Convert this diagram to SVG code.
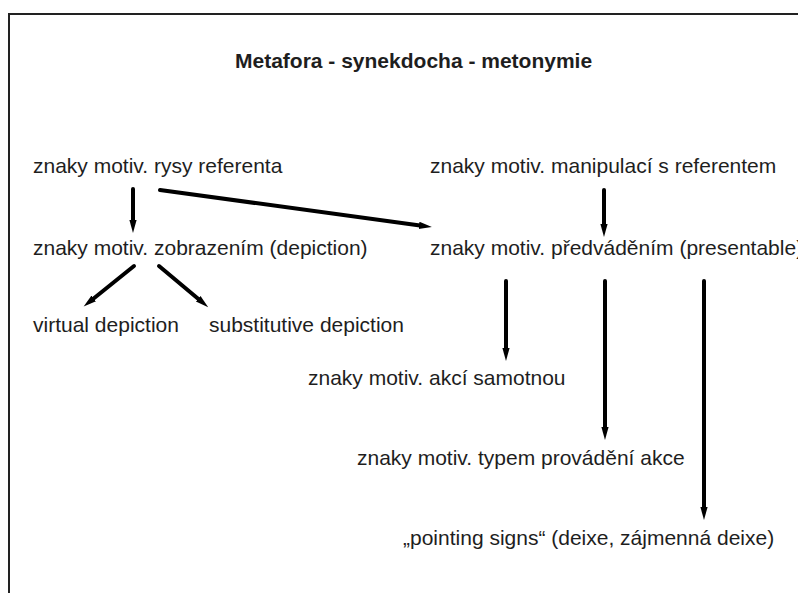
<svg xmlns="http://www.w3.org/2000/svg" width="798" height="593" viewBox="0 0 798 593">
<style>
text{font-family:"Liberation Sans",Arial,sans-serif;font-size:21px;fill:#1e1e1e}
.title{font-weight:bold}
.conn line{stroke:#000;stroke-width:4;stroke-linecap:round;marker-end:url(#ah)}
</style>
<defs>
<marker id="ah" markerUnits="userSpaceOnUse" markerWidth="16" markerHeight="10" viewBox="0 -5 16 10" refX="1" refY="0" orient="auto">
<path d="M0,-3.6 L13,0 L0,3.6 Z" fill="#000"/>
</marker>
</defs>
<rect width="798" height="593" fill="#fff"/>
<path d="M9,593 V14 H798" fill="none" stroke="#222" stroke-width="2"/>
<g id="title"><text class="title" x="235" y="68">Metafora - synekdocha - metonymie</text></g>
<g id="n-rysy"><text x="33" y="173">znaky motiv. rysy referenta</text></g>
<g id="n-manip"><text x="430" y="173">znaky motiv. manipulací s referentem</text></g>
<g id="n-zobr"><text x="33" y="255">znaky motiv. zobrazením (depiction)</text></g>
<g id="n-predv"><text x="430" y="255">znaky motiv. předváděním (presentable)</text></g>
<g id="n-virtual"><text x="33" y="332">virtual depiction</text></g>
<g id="n-subst"><text x="209" y="332">substitutive depiction</text></g>
<g id="n-akci"><text x="308" y="385">znaky motiv. akcí samotnou</text></g>
<g id="n-typem"><text x="357" y="465">znaky motiv. typem provádění akce</text></g>
<g id="n-pointing"><text x="403" y="545">„pointing signs“ (deixe, zájmenná deixe)</text></g>
<g class="conn" id="connectors">
<line x1="133" y1="189" x2="133" y2="221"/>
<line x1="160" y1="190" x2="420" y2="225.5"/>
<line x1="134" y1="266" x2="93" y2="299"/>
<line x1="159" y1="266" x2="199" y2="299.5"/>
<line x1="604" y1="190" x2="604" y2="225"/>
<line x1="506" y1="281" x2="506" y2="349"/>
<line x1="605" y1="281" x2="605" y2="428"/>
<line x1="704" y1="281" x2="704" y2="508"/>
</g>
</svg>
